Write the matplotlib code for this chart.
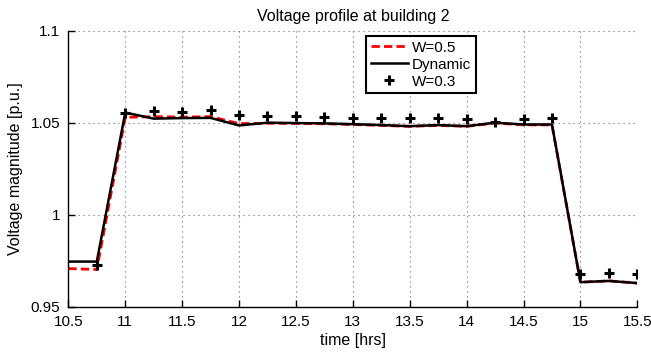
#!/usr/bin/env python3
"""Voltage profile at building 2: W=0.5 vs dynamic vs W=0.3."""

import matplotlib

matplotlib.use("Agg")
import matplotlib.pyplot as plt

plt.rcParams["font.family"] = ["Liberation Sans", "DejaVu Sans"]

# time axis, quarter-hour steps
hours = [10.5, 10.75, 11.0, 11.25, 11.5, 11.75, 12.0, 12.25, 12.5, 12.75, 13.0,
         13.25, 13.5, 13.75, 14.0, 14.25, 14.5, 14.75, 15.0, 15.25, 15.5]

v_w05 = [0.9707, 0.9702, 1.0529, 1.0533, 1.0530, 1.0533, 1.0495, 1.0497, 1.0496,
         1.0494, 1.0490, 1.0485, 1.0480, 1.0485, 1.0480, 1.0498, 1.0488, 1.0488,
         0.9633, 0.9640, 0.9628]
v_dyn = [0.9745, 0.9745, 1.0555, 1.0522, 1.0525, 1.0526, 1.0485, 1.0500, 1.0498,
         1.0496, 1.0492, 1.0487, 1.0481, 1.0487, 1.0481, 1.0500, 1.0490, 1.0490,
         0.9633, 0.9640, 0.9628]

# W=0.3 markers start at 10.75
hours_w03 = hours[1:]
v_w03 = [0.9727, 1.0550, 1.0563, 1.0558, 1.0567, 1.0540, 1.0536, 1.0536, 1.0529,
         1.0527, 1.0527, 1.0527, 1.0527, 1.0520, 1.0505, 1.0520, 1.0525,
         0.9675, 0.9682, 0.9675]

xticks = [10.5, 11, 11.5, 12, 12.5, 13, 13.5, 14, 14.5, 15, 15.5]
xticklabels = ["10.5", "11", "11.5", "12", "12.5", "13", "13.5", "14", "14.5", "15", "15.5"]
yticks = [0.95, 1.0, 1.05, 1.1]
yticklabels = ["0.95", "1", "1.05", "1.1"]


def main():
    fig = plt.figure(figsize=(6.51, 3.57), dpi=100)
    ax = fig.add_axes([0.105, 0.141, 0.874, 0.773])

    ax.plot(hours, v_w05, color="red", linewidth=2.0, linestyle=(0, (3, 1.5)), label="W=0.5")
    ax.plot(hours, v_dyn, color="black", linewidth=1.8, label="Dynamic")
    ax.plot(hours_w03, v_w03, linestyle="none", marker="+", markersize=7,
            markeredgewidth=2.2, color="black", label="W=0.3")

    ax.set_xlim(10.5, 15.5)
    ax.set_ylim(0.95, 1.1)
    ax.set_xticks(xticks)
    ax.set_xticklabels(xticklabels)
    ax.set_yticks(yticks)
    ax.set_yticklabels(yticklabels)
    ax.tick_params(direction="in", length=5, width=1, labelsize=11, pad=6)

    ax.grid(True, linestyle=(0, (1, 3.5)), color="#666666", linewidth=0.8)
    ax.spines["top"].set_visible(False)
    ax.spines["right"].set_visible(False)
    for side in ("left", "bottom"):
        ax.spines[side].set_linewidth(1.0)

    ax.set_title("Voltage profile at building 2", fontsize=11.5, pad=7)
    ax.set_xlabel("time [hrs]", fontsize=11.5, labelpad=3)
    ax.set_ylabel("Voltage magnitude [p.u.]", fontsize=11.5, labelpad=5)

    leg = ax.legend(loc="upper right", bbox_to_anchor=(0.7165, 0.981), borderaxespad=0,
                    fontsize=11, frameon=True, fancybox=False, framealpha=1,
                    edgecolor="black", handlelength=2.4, borderpad=0.3,
                    labelspacing=0.2, handletextpad=0.3)
    leg.get_frame().set_linewidth(1.5)

    fig.savefig("out.png", dpi=100, facecolor="white")
    plt.close(fig)


if __name__ == "__main__":
    main()
